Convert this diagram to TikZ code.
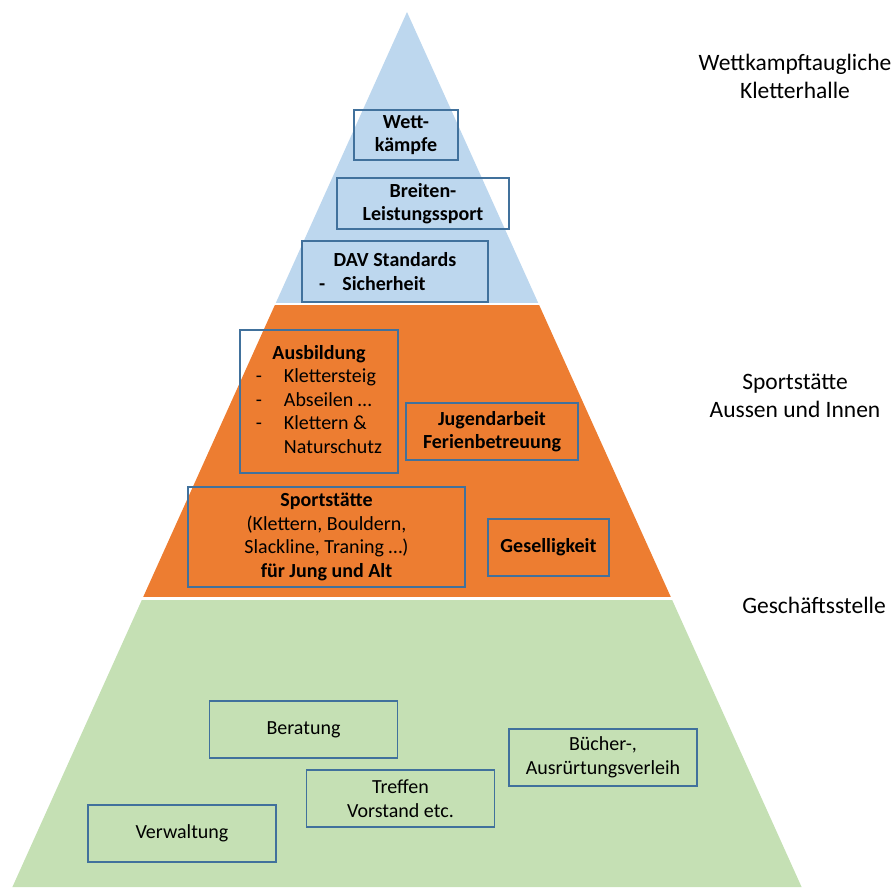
\documentclass[tikz,border=0pt]{standalone}
\usepackage{fontspec}
\setmainfont{Carlito}
\usetikzlibrary{calc}
\definecolor{skyfill}{RGB}{189,215,238}
\definecolor{orangefill}{RGB}{237,125,49}
\definecolor{greenfill}{RGB}{197,224,180}
\definecolor{boxblue}{RGB}{65,113,156}

\begin{document}
\begin{tikzpicture}[x=1pt, y=-1pt,
    boxnode/.style={draw=boxblue, line width=1.4pt, inner sep=0pt, align=center,
      font=\fontsize{20}{23.5}\selectfont},
    boldbox/.style={boxnode, font=\fontsize{20}{23.5}\selectfont\bfseries},
    sidelabel/.style={align=center, font=\fontsize{23.5}{28}\selectfont}]
  \useasboundingbox (0,0) rectangle (896,887);
  \coordinate (apex) at (407,12);
  \coordinate (bl) at (12.4,887);
  \coordinate (br) at (801.6,887);
  % pyramid layers
  \fill[skyfill] (apex) -- ($(apex)!0.3326!(bl)$) -- ($(apex)!0.3326!(br)$) -- cycle;
  \fill[orangefill] ($(apex)!0.3349!(bl)$) -- ($(apex)!0.6686!(bl)$)
    -- ($(apex)!0.6686!(br)$) -- ($(apex)!0.3349!(br)$) -- cycle;
  \fill[greenfill] ($(apex)!0.672!(bl)$) -- (bl) -- (br) -- ($(apex)!0.672!(br)$) -- cycle;
  % white gaps between layers
  \draw[white, line width=2pt] ($(apex)!0.3337!(bl)+(-5,0)$) -- ($(apex)!0.3337!(br)+(5,0)$);
  \draw[white, line width=2.5pt] ($(apex)!0.6703!(bl)+(-5,0)$) -- ($(apex)!0.6703!(br)+(5,0)$);

  % top layer
  \node[boldbox, minimum width=104, minimum height=50] (wett) at (406,135) {Wett-\\k\"ampfe};
  \node[boldbox, minimum width=172, minimum height=51] (breiten) at (423,203.5) {Breiten-\\Leistungssport};
  \node[boldbox, minimum width=186, minimum height=61] (dav) at (395,271.5)
    {DAV Standards\\\makebox[0pt][r]{-\hspace{17pt}}Sicherheit\hspace*{22pt}};

  % middle layer
  \node[boxnode, minimum width=158, minimum height=143] (ausbildung) at (319,401.5) {%
    \begin{tabular}{@{}p{28pt}@{}l@{}}
      \multicolumn{2}{c}{\bfseries Ausbildung}\\
      - & Klettersteig\\
      - & Abseilen \dots\\
      - & Klettern \&\\
        & Naturschutz
    \end{tabular}};
  \node[boldbox, minimum width=172, minimum height=57] (jugend) at (492,431.5) {Jugendarbeit\\Ferienbetreuung};
  \node[boxnode, minimum width=277, minimum height=100] (sportstaette) at (326.5,537)
    {\textbf{Sportst\"atte}\\(Klettern, Bouldern,\\Slackline, Traning \dots)\\\textbf{f\"ur Jung und Alt}};
  \node[boldbox, minimum width=121, minimum height=57] (geselligkeit) at (548.5,547.5) {Geselligkeit};

  % bottom layer
  \foreach \n/\x/\y/\t in {
      beratung/303.5/729.5/{Beratung},
      buecher/603/757.5/{B\"ucher-,\\Ausr\"urtungsverleih},
      treffen/400.5/798.5/{Treffen\\Vorstand etc.},
      verwaltung/182/833.5/{Verwaltung}} {
    \node[boxnode, minimum width=188, minimum height=57] (\n) at (\x,\y) {\t};
  }

  % side labels
  \node[sidelabel] (kletterhalle) at (795,76) {Wettkampftaugliche\\Kletterhalle};
  \node[sidelabel] (aussen) at (795,396) {Sportst\"atte\\Aussen und Innen};
  \node[sidelabel] (geschaeft) at (814,605) {Gesch\"aftsstelle};
\end{tikzpicture}
\end{document}
